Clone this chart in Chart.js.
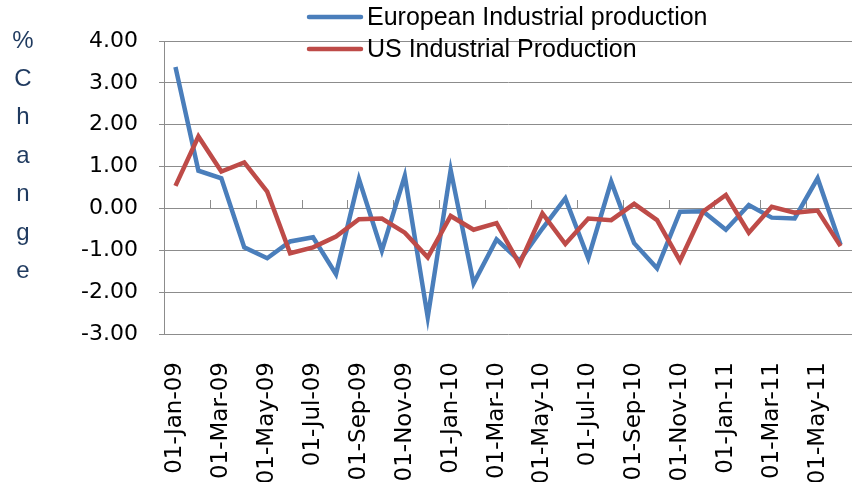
<!DOCTYPE html>
<html>
<head>
<meta charset="utf-8">
<script src="https://cdn.jsdelivr.net/npm/chart.js@4.4.1/dist/chart.umd.min.js"></script>
<style>
  html, body { margin: 0; padding: 0; background: #ffffff; overflow: hidden; }
  #wrap { width: 852px; height: 482px; position: relative; }
</style>
</head>
<body>
<div id="wrap"><canvas id="c" width="852" height="482"></canvas></div>
<script>
const months = [
  "01-Jan-09","01-Feb-09","01-Mar-09","01-Apr-09","01-May-09","01-Jun-09",
  "01-Jul-09","01-Aug-09","01-Sep-09","01-Oct-09","01-Nov-09","01-Dec-09",
  "01-Jan-10","01-Feb-10","01-Mar-10","01-Apr-10","01-May-10","01-Jun-10",
  "01-Jul-10","01-Aug-10","01-Sep-10","01-Oct-10","01-Nov-10","01-Dec-10",
  "01-Jan-11","01-Feb-11","01-Mar-11","01-Apr-11","01-May-11","01-Jun-11"
];
const europeanIP = [
  3.38, 0.90, 0.72, -0.93, -1.19, -0.79, -0.69, -1.57, 0.70, -1.01,
  0.78, -2.60, 0.92, -1.79, -0.74, -1.25, -0.48, 0.24, -1.19, 0.64,
  -0.83, -1.43, -0.08, -0.07, -0.51, 0.08, -0.22, -0.24, 0.72, -0.87
];
const usIP = [
  0.54, 1.72, 0.88, 1.10, 0.40, -1.07, -0.93, -0.67, -0.26, -0.24,
  -0.58, -1.17, -0.18, -0.51, -0.35, -1.33, -0.12, -0.85, -0.24, -0.28,
  0.11, -0.28, -1.25, -0.08, 0.32, -0.58, 0.04, -0.10, -0.05, -0.90
];
const seriesNames = ["European Industrial production", "US Industrial Production"];
const yTitle = "% Change";
const yMin = -3, yMax = 4, yStep = 1;

const BLUE = "#4A7EBB";
const RED = "#BE4B48";
const GRID = "#8C8C8C";

const customDraw = {
  id: "customDraw",
  beforeDatasetsDraw(chart) {
    const ctx = chart.ctx;
    const x = chart.scales.x, y = chart.scales.y;
    const y0 = y.getPixelForValue(0);
    const step = x.getPixelForValue(1) - x.getPixelForValue(0);
    ctx.save();
    ctx.strokeStyle = GRID;
    ctx.lineWidth = 1;
    for (let i = 2; i <= months.length; i += 2) {
      const px = Math.round(x.getPixelForValue(i - 1) + step / 2) + 0.5;
      ctx.beginPath();
      ctx.moveTo(px, Math.round(y0) - 8);
      ctx.lineTo(px, Math.round(y0));
      ctx.stroke();
    }
    ctx.restore();
  },
  afterDatasetsDraw(chart) {
    const ctx = chart.ctx;
    ctx.save();
    const ds = chart.data.datasets;
    const rows = [17, 49];
    ctx.font = "25px 'Liberation Sans', Arial, sans-serif";
    ctx.textBaseline = "middle";
    ctx.textAlign = "left";
    ds.forEach((d, i) => {
      ctx.strokeStyle = d.borderColor;
      ctx.lineWidth = 4.5;
      ctx.lineCap = "round";
      ctx.beginPath();
      ctx.moveTo(309, rows[i]);
      ctx.lineTo(361, rows[i]);
      ctx.stroke();
      ctx.fillStyle = "#000000";
      ctx.fillText(d.label, 367, rows[i] + 1);
    });
    const letters = yTitle.replace(/\s+/g, "").split("");
    ctx.fillStyle = "#1F3A5F";
    ctx.font = "24px 'Liberation Sans', Arial, sans-serif";
    ctx.textAlign = "center";
    letters.forEach((ch, i) => {
      ctx.fillText(ch, 23, 41 + i * 38.4);
    });
    ctx.restore();
  }
};

new Chart(document.getElementById("c"), {
  type: "line",
  data: {
    labels: months,
    datasets: [
      { label: seriesNames[0], data: europeanIP, borderColor: BLUE, backgroundColor: BLUE,
        borderWidth: 4.5, pointRadius: 0, tension: 0, order: 2, fill: false },
      { label: seriesNames[1], data: usIP, borderColor: RED, backgroundColor: RED,
        borderWidth: 4.5, pointRadius: 0, tension: 0, order: 1, fill: false }
    ]
  },
  options: {
    responsive: false,
    animation: false,
    devicePixelRatio: 1,
    layout: { padding: { top: 41, right: 0, left: 0, bottom: 0 } },
    plugins: { legend: { display: false }, tooltip: { enabled: false } },
    scales: {
      x: {
        offset: true,
        grid: { display: false, drawTicks: false },
        border: { display: false },
        ticks: {
          autoSkip: false, maxRotation: 90, minRotation: 90, padding: 28,
          color: "#000000",
          font: { family: "'DejaVu Sans', sans-serif", size: 23 },
          callback: function(v, i) { return i % 2 === 0 ? months[i] : ""; }
        },
        afterFit: function(s) { s.height = 148; s.paddingRight = 0; s.paddingLeft = 0; }
      },
      y: {
        min: yMin, max: yMax,
        grid: { color: GRID, lineWidth: 1, drawTicks: true, tickLength: 5 },
        border: { color: GRID, width: 1 },
        ticks: {
          stepSize: yStep, padding: 21, color: "#000000",
          font: { family: "'DejaVu Sans', sans-serif", size: 22 },
          callback: function(v) { return Number(v).toFixed(2); }
        },
        afterFit: function(s) { s.width = 164; }
      }
    }
  },
  plugins: [customDraw]
});
</script>
</body>
</html>
